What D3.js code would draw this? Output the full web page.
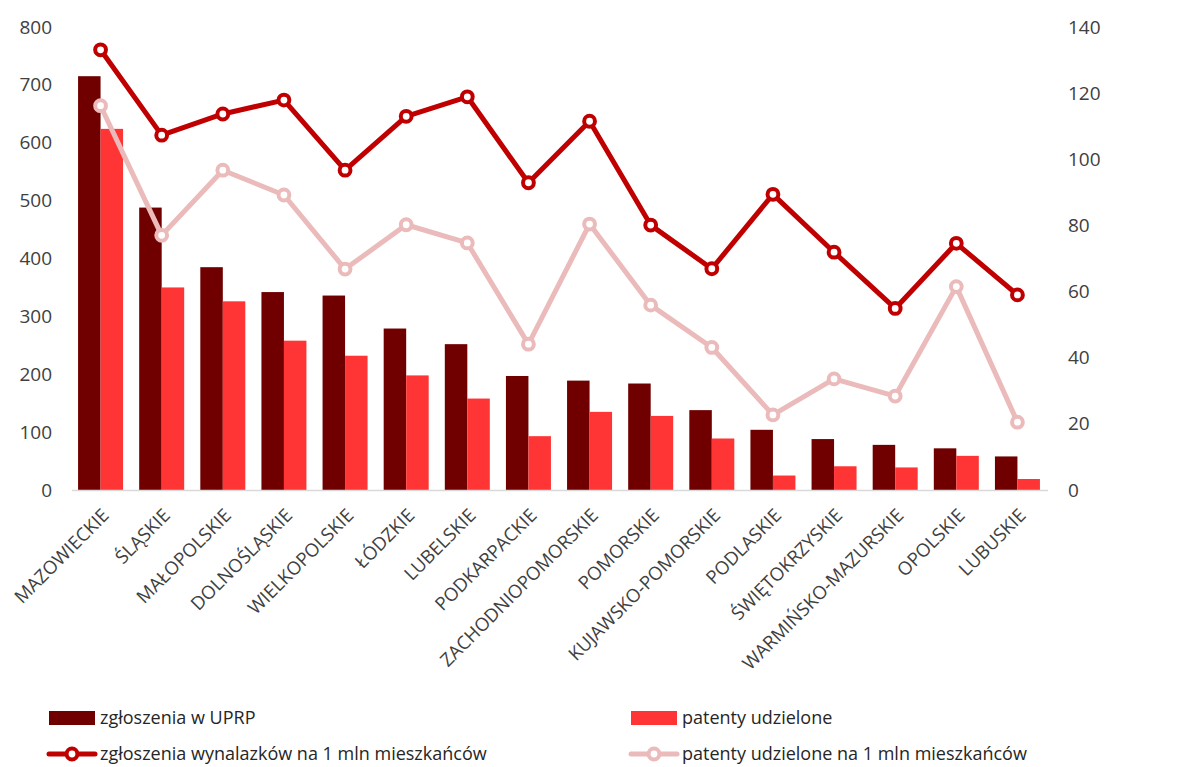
<!DOCTYPE html>
<html>
<head>
<meta charset="utf-8">
<title>Patenty wg województw</title>
<script src="https://cdn.jsdelivr.net/npm/d3@7"></script>
<style>
  body { margin: 0; background: #fff; }
  text { font-family: "Open Sans", "Noto Sans", sans-serif; fill: #404040; }
  .tick text { font-size: 19px; }
  .xlab { font-size: 18.5px; }
  .leg { font-size: 18px; fill: #262626; }
</style>
</head>
<body>
<script>
var regions = ["MAZOWIECKIE", "ŚLĄSKIE", "MAŁOPOLSKIE", "DOLNOŚLĄSKIE", "WIELKOPOLSKIE", "ŁÓDZKIE",
  "LUBELSKIE", "PODKARPACKIE", "ZACHODNIOPOMORSKIE", "POMORSKIE", "KUJAWSKO-POMORSKIE", "PODLASKIE",
  "ŚWIĘTOKRZYSKIE", "WARMIŃSKO-MAZURSKIE", "OPOLSKIE", "LUBUSKIE"];
var zgloszenia = [715, 488, 385, 342, 336, 279, 252, 197, 189, 184, 138, 104, 88, 78, 72, 58];
var patenty = [624, 350, 326, 258, 232, 198, 158, 93, 135, 128, 89, 25, 41, 39, 59, 19];
var zglNaMln = [133.1, 107.3, 113.7, 117.9, 96.7, 113, 118.9, 92.9, 111.5, 80.1, 66.9, 89.4, 71.9, 54.9, 74.6, 59];
var patNaMln = [116.2, 77, 96.7, 89.2, 66.8, 80.2, 74.7, 44.1, 80.4, 55.9, 43.1, 22.7, 33.6, 28.4, 61.5, 20.5];
var leftTicks = [0, 100, 200, 300, 400, 500, 600, 700, 800];
var rightTicks = [0, 20, 40, 60, 80, 100, 120, 140];

var W = 1185, H = 767;
var c = { dark: "#700000", bright: "#ff3535", line1: "#c00000", line2: "#ebbaba" };

var svg = d3.select("body").append("svg").attr("width", W).attr("height", H);

var x = d3.scaleBand().domain(regions).range([70, 1048]);
var xin = d3.scaleBand().domain([0, 1]).range([0, 45]);
var yL = d3.scaleLinear().domain([0, 800]).range([490, 27]);
var yR = d3.scaleLinear().domain([0, 140]).range([490, 27]);

// axes
var axL = svg.append("g").attr("transform", "translate(70,0)")
  .call(d3.axisLeft(yL).tickValues(leftTicks).tickSize(0).tickPadding(18));
axL.select(".domain").remove();
var axR = svg.append("g").attr("transform", "translate(1048,0)")
  .call(d3.axisRight(yR).tickValues(rightTicks).tickSize(0).tickPadding(20));
axR.select(".domain").remove();

// bars
var grp = svg.append("g").selectAll("g").data(regions).enter().append("g")
  .attr("transform", function(d) { return "translate(" + (x(d) + x.bandwidth() / 2 - 22.5) + ",0)"; });
grp.append("rect").attr("x", xin(0)).attr("width", xin.bandwidth())
  .attr("y", function(d, i) { return yL(zgloszenia[i]); })
  .attr("height", function(d, i) { return yL(0) - yL(zgloszenia[i]); })
  .attr("fill", c.dark);
grp.append("rect").attr("x", xin(1)).attr("width", xin.bandwidth())
  .attr("y", function(d, i) { return yL(patenty[i]); })
  .attr("height", function(d, i) { return yL(0) - yL(patenty[i]); })
  .attr("fill", c.bright);

// baseline
svg.append("line").attr("x1", 72).attr("x2", 1048).attr("y1", 490.5).attr("y2", 490.5)
  .attr("stroke", "#d9d9d9").attr("stroke-width", 1.5);

// x labels
svg.append("g").selectAll("text").data(regions).enter().append("text")
  .attr("class", "xlab")
  .attr("text-anchor", "end")
  .attr("transform", function(d) {
    return "translate(" + (x(d) + x.bandwidth() / 2 + 5) + ",512) rotate(-45)";
  })
  .attr("dy", "0.35em")
  .text(function(d) { return d; });

// lines
function drawLine(vals, col) {
  var line = d3.line()
    .x(function(d, i) { return x(regions[i]) + x.bandwidth() / 2; })
    .y(function(d) { return yR(d); });
  svg.append("path").datum(vals).attr("d", line)
    .attr("fill", "none").attr("stroke", col).attr("stroke-width", 5).attr("stroke-linejoin", "round");
  svg.append("g").selectAll("circle").data(vals).enter().append("circle")
    .attr("cx", function(d, i) { return x(regions[i]) + x.bandwidth() / 2; })
    .attr("cy", function(d) { return yR(d); })
    .attr("r", 5.4).attr("fill", "#fff").attr("stroke", col).attr("stroke-width", 4);
}
drawLine(patNaMln, c.line2);
drawLine(zglNaMln, c.line1);

// legend
var legend = [
  { name: "zgłoszenia w UPRP", type: "bar", col: c.dark, x: 49, y: 718 },
  { name: "patenty udzielone", type: "bar", col: c.bright, x: 631, y: 718 },
  { name: "zgłoszenia wynalazków na 1 mln mieszkańców", type: "line", col: c.line1, x: 49, y: 754 },
  { name: "patenty udzielone na 1 mln mieszkańców", type: "line", col: c.line2, x: 631, y: 754 }
];
var lg = svg.append("g").selectAll("g").data(legend).enter().append("g")
  .attr("transform", function(d) { return "translate(" + d.x + "," + d.y + ")"; });
lg.filter(function(d) { return d.type === "bar"; }).append("rect")
  .attr("x", 0).attr("y", -7).attr("width", 46).attr("height", 14).attr("fill", function(d) { return d.col; });
var ll = lg.filter(function(d) { return d.type === "line"; });
ll.append("line").attr("x1", 0).attr("x2", 46).attr("y1", 0).attr("y2", 0)
  .attr("stroke", function(d) { return d.col; }).attr("stroke-width", 5).attr("stroke-linecap", "round");
ll.append("circle").attr("cx", 23).attr("r", 5.4).attr("fill", "#fff")
  .attr("stroke", function(d) { return d.col; }).attr("stroke-width", 4);
lg.append("text").attr("class", "leg").attr("x", 51).attr("dy", "0.35em")
  .text(function(d) { return d.name; });
</script>
</body>
</html>
